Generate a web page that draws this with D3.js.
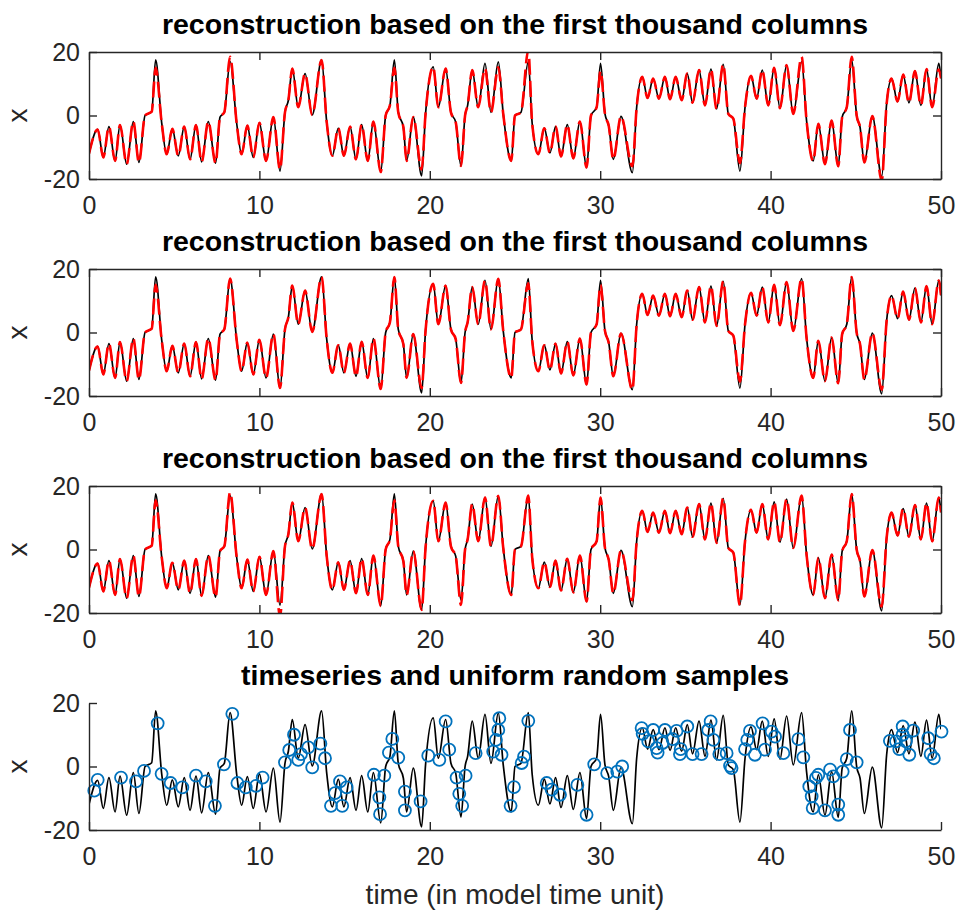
<!DOCTYPE html>
<html lang="en">
<head>
<meta charset="utf-8">
<title>timeseries reconstruction</title>
<script src="https://cdn.jsdelivr.net/npm/d3@7/dist/d3.min.js"></script>
<style>
  body { margin: 0; background: white; }
  .axis path, .axis line { stroke: #262626; stroke-width: 1.4; fill: none; }
  .axis text { font-family: "Liberation Sans", Arial, sans-serif; font-size: 25px; fill: #262626; }
</style>
</head>
<body>
<div id="chart"></div>
<script>
// time series (extrema and shoulders)
var timeGrid = [0.00,0.51,0.84,1.17,1.53,1.82,2.21,2.60,2.93,3.29,3.68,3.91,4.27,4.56,4.89,5.24,5.59,5.93,6.28,6.61,7.00,7.43,7.69,7.94,8.28,8.67,8.96,9.29,9.64,10.00,10.39,10.82,11.21,11.50,11.70,11.93,12.28,12.68,13.10,13.65,13.95,14.28,14.63,14.96,15.32,15.67,16.00,16.36,16.69,17.12,17.41,17.66,17.92,18.15,18.45,18.64,19.03,19.52,19.75,20.20,20.50,20.93,21.24,21.52,21.83,22.07,22.22,22.49,22.84,23.24,23.59,24.02,24.31,24.78,25.00,25.35,25.78,26.01,26.37,26.72,27.05,27.38,27.70,28.07,28.42,28.81,29.20,29.46,29.79,30.02,30.28,30.50,30.77,31.22,31.89,32.14,32.47,32.78,33.11,33.45,33.80,34.10,34.43,34.78,35.11,35.42,35.80,36.15,36.50,36.83,37.22,37.52,37.81,38.20,38.50,38.85,39.18,39.51,39.86,40.21,40.55,40.94,41.33,41.82,42.11,42.50,42.80,43.19,43.58,43.97,44.20,44.47,44.76,45.05,45.25,45.50,45.97,46.52,46.81,47.10,47.45,47.78,48.12,48.47,48.82,49.15,49.48,49.87,50.00];
var trueX = [-12.0,-4.4,-13.2,-3.5,-14.3,-3.0,-15.3,-1.9,-14.8,0.0,1.2,17.5,-2.5,-12.2,-4.2,-12.7,-3.5,-13.8,-3.0,-14.6,-1.9,-15.0,-0.5,1.0,17.0,-2.6,-12.2,-3.2,-13.2,-2.3,-14.3,-0.5,-17.5,1.0,4.8,14.8,2.6,13.2,0.2,17.5,-2.1,-12.7,-4.0,-12.7,-3.5,-13.8,-2.9,-14.3,-1.9,-17.8,0.0,3.2,17.5,1.0,-3.7,-14.3,-0.5,-19.0,0.5,15.3,2.6,14.8,1.0,-2.1,-15.9,0.0,3.2,14.3,2.6,16.4,1.0,16.9,0.5,-14.3,0.0,1.0,17.0,-2.6,-12.2,-4.0,-11.8,-3.5,-12.9,-2.9,-13.5,-1.9,-16.4,0.0,2.6,16.4,0.5,-3.2,-13.8,-0.3,-18.0,2.6,12.2,5.5,11.6,5.3,12.2,5.1,12.2,4.8,13.2,4.0,14.3,3.2,14.6,2.1,16.1,0.5,-1.0,-17.5,2.6,12.5,5.3,14.3,3.2,15.0,2.3,15.9,0.5,17.0,-1.6,-14.3,-2.6,-15.3,-1.6,-16.0,-0.5,2.6,17.5,0.0,-3.7,-14.8,-0.2,-19.3,3.7,11.6,4.4,12.9,4.0,14.0,3.2,14.6,2.6,16.4,11.7];

// reconstructions: same as the series except at these [time, x] points
var recon1 = [[3.91,15.0],[8.28,18.5],[11.21,-17.0],[17.92,15.0],[19.52,-17.0],[23.24,14.8],[24.02,15.2],[25.78,20.5],[30.02,14.0],[31.89,-16.0],[38.20,-15.0],[41.82,18.5],[44.76,18.5],[46.52,-20.5],[49.87,14.5]];
var recon2 = [[3.91,15.0],[8.28,17.0],[19.52,-17.5],[25.78,15.5],[30.02,15.0],[38.20,-15.5],[46.52,-18.0]];
var recon3 = [[3.91,15.5],[8.28,18.0],[11.21,-21.0],[17.92,15.5],[21.83,-17.5],[31.89,-16.0],[38.20,-17.5],[46.52,-18.0]];

// uniform random samples (bottom panel)
var sampleT = [0.31,0.51,1.88,2.76,3.23,4.03,4.26,4.79,5.48,6.28,6.85,7.39,7.92,8.41,8.71,9.20,9.80,10.19,11.50,11.75,12.03,12.28,12.44,12.87,13.10,13.58,13.85,14.20,14.44,14.73,14.86,15.12,16.72,17.04,17.08,17.33,17.60,17.80,18.15,18.54,18.54,19.46,19.91,20.56,20.93,21.14,21.57,21.73,21.90,22.10,22.69,23.72,23.88,24.02,24.08,24.21,24.74,24.94,25.39,25.53,25.78,26.86,27.15,27.64,28.66,29.20,29.65,30.41,31.00,31.29,32.43,32.49,32.82,33.11,33.31,33.37,33.66,33.80,34.25,34.48,34.68,34.72,35.11,35.42,35.95,36.34,36.48,36.64,36.99,37.42,37.62,37.71,38.50,38.63,38.79,39.08,39.53,39.67,40.06,40.26,40.75,41.63,41.92,42.27,42.41,42.47,42.66,42.80,43.19,43.49,43.68,43.97,43.97,44.23,44.47,44.66,45.05,47.00,47.36,47.55,47.75,47.75,47.94,48.14,48.37,49.25,49.39,49.58,50.03];
var sampleX = [-7.6,-4.2,-3.5,-4.7,-1.4,13.6,-2.3,-5.2,-6.6,-2.9,-4.7,-12.4,0.7,16.6,-5.2,-6.6,-6.1,-3.5,1.3,5.2,10.0,2.1,3.9,6.0,-0.3,7.2,2.6,-12.4,-8.4,-4.7,-12.4,-6.6,-2.6,-9.7,-15.0,-2.9,4.4,8.7,2.8,-7.9,-13.8,-11.0,3.4,2.1,14.2,5.3,-3.5,-8.6,-12.4,-2.9,4.2,4.7,8.4,11.5,15.2,3.7,-12.4,-6.5,1.1,3.1,14.4,-5.2,-7.3,-8.9,-5.8,-15.2,0.7,-2.1,-1.6,0.0,12.1,10.3,7.9,11.5,5.8,4.4,7.4,11.5,8.6,11.2,3.9,5.5,12.6,3.9,3.9,11.5,14.2,8.4,3.9,4.2,0.2,-0.5,5.5,8.4,11.2,3.7,13.6,5.3,11.0,9.4,4.2,8.6,2.9,-6.3,-9.4,-13.1,-3.6,-2.6,-13.8,-1.0,-3.1,-12.0,-15.2,-1.6,2.3,11.5,1.3,8.1,7.9,5.5,12.6,10.0,7.9,3.7,11.3,8.9,3.9,2.6,11.0];

var xTicks = [0, 10, 20, 30, 40, 50];
var yTicks = [-20, 0, 20];
var titles = ["reconstruction based on the first thousand columns",
              "reconstruction based on the first thousand columns",
              "reconstruction based on the first thousand columns",
              "timeseries and uniform random samples"];
var xLabel = "time (in model time unit)";
var yLabel = "x";

var width = 959, height = 914;
var left = 89, right = 941, plotH = 127;
var tops = [52, 269, 486, 703];

var svg = d3.select("#chart").append("svg")
  .attr("width", width).attr("height", height)
  .style("background", "white");

var x = d3.scaleLinear().domain([0, 50]).range([left, right]);
var plain = function(d) { return String(d); };

var truePts = timeGrid.map(function(t, i) { return [t, trueX[i]]; });

function withChanges(changes) {
  var pts = truePts.map(function(p) { return [p[0], p[1]]; });
  changes.forEach(function(c) {
    var best = 0;
    pts.forEach(function(p, i) { if (Math.abs(p[0] - c[0]) < Math.abs(pts[best][0] - c[0])) best = i; });
    pts[best][1] = c[1];
  });
  return pts;
}
var recons = [withChanges(recon1), withChanges(recon2), withChanges(recon3)];

var font = '"Liberation Sans", Arial, sans-serif';

tops.forEach(function(top, k) {
  var y = d3.scaleLinear().domain([-20, 20]).range([top + plotH, top]);
  var g = svg.append("g");

  g.append("clipPath").attr("id", "clip" + k)
    .append("rect").attr("x", left).attr("y", top).attr("width", right - left).attr("height", plotH);

  var line = d3.line()
    .x(function(d) { return x(d[0]); })
    .y(function(d) { return y(d[1]); })
    .curve(d3.curveMonotoneX);

  var plot = g.append("g").attr("clip-path", "url(#clip" + k + ")");
  plot.append("path").datum(truePts)
    .attr("d", line).attr("fill", "none")
    .attr("stroke", "#000").attr("stroke-width", 1.7).attr("stroke-linejoin", "round");

  if (k < 3) {
    plot.append("path").datum(recons[k])
      .attr("d", line).attr("fill", "none")
      .attr("stroke", "#ff0000").attr("stroke-width", 2.6)
      .attr("stroke-dasharray", "16,6");
  } else {
    g.selectAll("circle.sample")
      .data(sampleT.map(function(t, i) { return [t, sampleX[i]]; }))
      .enter().append("circle")
      .attr("class", "sample")
      .attr("cx", function(d) { return x(d[0]); })
      .attr("cy", function(d) { return y(d[1]); })
      .attr("r", 6)
      .attr("fill", "none").attr("stroke", "#0072bd").attr("stroke-width", 1.8);
  }

  // axes, ticks point inward
  g.append("g").attr("class", "axis")
    .attr("transform", "translate(0," + (top + plotH) + ")")
    .call(d3.axisBottom(x).tickValues(xTicks).tickFormat(plain).tickSizeInner(-8).tickSizeOuter(0).tickPadding(17));
  g.append("g").attr("class", "axis")
    .attr("transform", "translate(" + left + ",0)")
    .call(d3.axisLeft(y).tickValues(yTicks).tickFormat(plain).tickSizeInner(-8).tickSizeOuter(0).tickPadding(9));
  if (k < 3) {
    g.append("g").attr("class", "axis")
      .attr("transform", "translate(0," + top + ")")
      .call(d3.axisTop(x).tickValues(xTicks).tickSizeInner(-8).tickSizeOuter(0).tickFormat(""));
    g.append("g").attr("class", "axis")
      .attr("transform", "translate(" + right + ",0)")
      .call(d3.axisRight(y).tickValues(yTicks).tickSizeInner(-8).tickSizeOuter(0).tickFormat(""));
  }
  g.selectAll(".axis").attr("font-family", null).attr("font-size", null);

  g.append("text")
    .attr("x", (left + right) / 2).attr("y", top - 18)
    .attr("text-anchor", "middle")
    .attr("font-family", font).attr("font-weight", "bold").attr("font-size", 28.5)
    .text(titles[k]);

  g.append("text")
    .attr("transform", "translate(27," + y(0) + ") rotate(-90)")
    .attr("text-anchor", "middle")
    .attr("font-family", font).attr("font-size", 28).attr("fill", "#262626")
    .text(yLabel);
});

svg.append("text")
  .attr("x", (left + right) / 2).attr("y", 904)
  .attr("text-anchor", "middle")
  .attr("font-family", font).attr("font-size", 28).attr("fill", "#262626")
  .text(xLabel);
</script>
</body>
</html>
